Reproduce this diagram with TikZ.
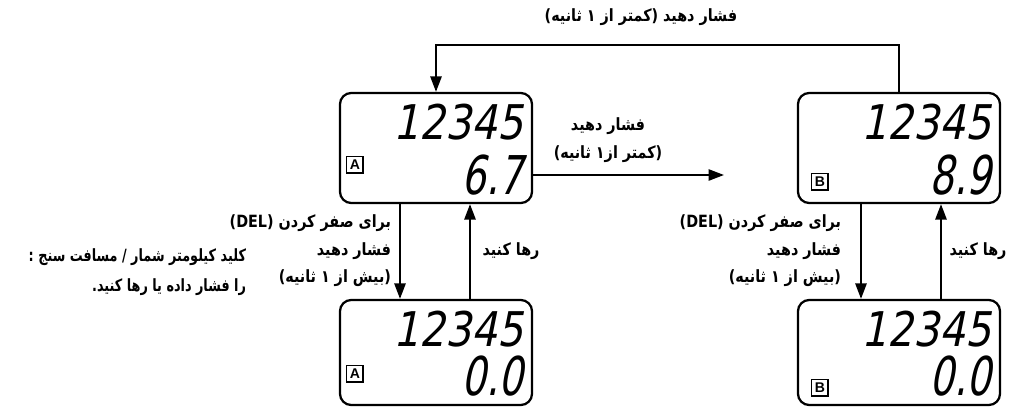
\documentclass[tikz,border=0pt]{standalone}
\usepackage{fontspec}
\usetikzlibrary{arrows.meta, positioning, calc}
\TeXXeTstate=1
\newfontfamily\fafont[Script=Arabic, FakeStretch=0.85]{DejaVu Sans}
\newfontfamily\fanarrow[Script=Arabic, FakeStretch=0.76]{DejaVu Sans}
\newfontfamily\lcdfont[FakeStretch=0.85, FakeSlant=0.2]{DejaVu Sans}
\newfontfamily\lcdwide[FakeStretch=0.72, FakeSlant=0.2]{DejaVu Sans}
\newfontfamily\tagfont{Liberation Sans}
\newcommand\rl[1]{\beginR#1\endR}
\tikzset{
  every picture/.style={line width=1.4pt},
  lcdbox/.style={draw, rounded corners=8pt, minimum width=#1, minimum height=2.75cm, line width=1.6pt},
  lcdbox/.default=4.8cm,
  lcdnum/.style={font=\lcdfont\fontsize{34}{34}\selectfont, inner sep=0pt, anchor=east},
  lcdval/.style={font=\lcdwide\fontsize{38}{38}\selectfont, inner sep=0pt, anchor=east},
  tagbox/.style={draw, line width=1.2pt, minimum size=0.42cm, inner sep=0pt, font=\tagfont\bfseries},
  arrow/.style={-{Triangle[length=11pt, width=8pt]}, line width=1.4pt},
  fa/.style={font=\fafont\bfseries\fontsize{12}{19.5}\selectfont, inner sep=0pt},
}
\begin{document}
\begin{tikzpicture}[x=0.025cm, y=-0.025cm]
  \useasboundingbox[fill=white] (0,0) rectangle (1013,408);
  % displays
  \node[lcdbox] (boxA) at (436,148) {};
  \node[lcdbox=5.05cm] (boxB) at (899,148) {};
  \node[lcdbox, minimum height=2.625cm] (boxAz) at (436,352.5) {};
  \node[lcdbox=5.05cm, minimum height=2.625cm] (boxBz) at (899,352.5) {};
  \foreach \b/\t/\v/\vy/\ty/\tx in {boxA/A/6.7/83/73/16, boxB/B/8.9/83/90/23, boxAz/A/0.0/77/75/16, boxBz/B/0.0/77/89/23} {
    \node[lcdnum] (\b-num) at ($(\b.north east)+(-9,30)$) {12345};
    \node[lcdval] (\b-val) at ($(\b.north east)+(-9,\vy)$) {\v};
    \node[tagbox] (\b-tag) at ($(\b.north west)+(\tx,\ty)$) {\t};
  }
  % connectors
  \coordinate (loop) at (641,45);
  \coordinate (hend) at (724,175);
  \draw[arrow] (boxB.north) |- (loop) -| (boxA.north);
  \draw[arrow] (boxA.east |- hend) -- (hend);
  \draw[arrow] ($(boxA.south)+(-36,0)$) -- ($(boxAz.north)+(-36,0)$);
  \draw[arrow] ($(boxAz.north)+(34,0)$) -- ($(boxA.south)+(34,0)$);
  \draw[arrow] ($(boxB.south)+(-38,0)$) -- ($(boxBz.north)+(-38,0)$);
  \draw[arrow] ($(boxBz.north)+(42,0)$) -- ($(boxB.south)+(42,0)$);
  % labels
  \node[fa] (pressTop) at (641,17) {\rl{فشار دهید (کمتر از ۱ ثانیه)}};
  \node[fa, align=center] (pressMid) at (608,140) {\rl{فشار دهید}\\\rl{(کمتر از۱ ثانیه)}};
  \node[fa, align=right, anchor=east] (delA) at (392,251) {\rl{برای صفر کردن \beginL(DEL)\endL}\\\rl{فشار دهید}\\\rl{(بیش از ۱ ثانیه)}};
  \node[fa] (relA) at (511,251) {\rl{رها کنید}};
  \node[fa, align=right, anchor=east] (delB) at (842,251) {\rl{برای صفر کردن \beginL(DEL)\endL}\\\rl{فشار دهید}\\\rl{(بیش از ۱ ثانیه)}};
  \node[fa] (relB) at (978,251) {\rl{رها کنید}};
  \node[fa, align=right, anchor=east, font=\fanarrow\bfseries\fontsize{12}{21}\selectfont] (note) at (247,272) {\rl{کلید کیلومتر شمار / مسافت سنج :}\\\rl{را فشار داده یا رها کنید.}};
\end{tikzpicture}
\end{document}
